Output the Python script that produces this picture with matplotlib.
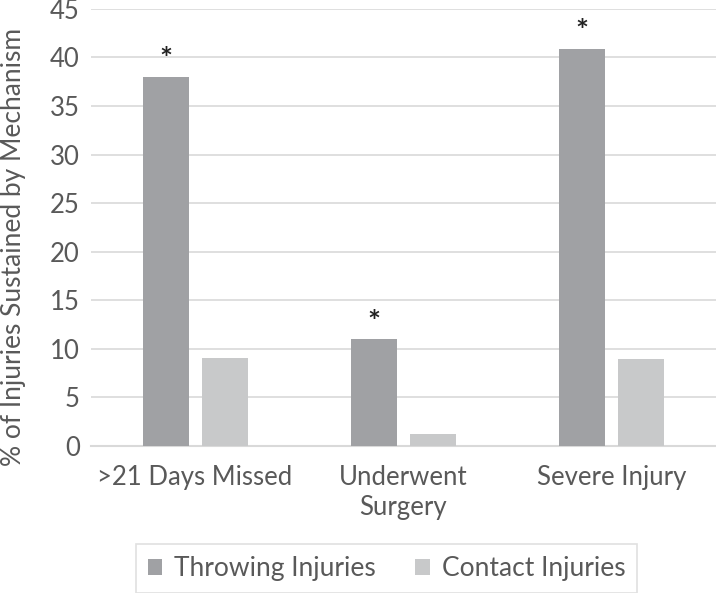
import matplotlib.pyplot as plt
import numpy as np

categories = [">21 Days Missed", "Underwent\nSurgery", "Severe Injury"]
throwing = [38.0, 11.0, 40.9]
contact = [9.1, 1.2, 8.9]
significant = [True, True, True]
series_names = ["Throwing Injuries", "Contact Injuries"]

plt.rcParams["font.family"] = ["Lato", "DejaVu Sans"]
text_color = "#595959"

fig = plt.figure(figsize=(7.16, 5.93), dpi=100)
ax = fig.add_axes([0.127, 0.248, 0.873, 0.737])

x = np.arange(len(categories))
width = 0.221
gap = 0.0625
off = (width + gap) / 2
b1 = ax.bar(x - off, throwing, width, color="#A0A1A4", label=series_names[0], zorder=3)
b2 = ax.bar(x + off, contact, width, color="#C8C9CA", label=series_names[1], zorder=3)

# significance markers
for xi, v, s in zip(x, throwing, significant):
    if s:
        ax.text(xi - off, v + 1.7, "*", ha="center", va="center", fontsize=22,
                fontweight="bold", color="#222222")

ax.set_xlim(-0.5, len(categories) - 0.5)
ax.set_ylim(0, 45)
ax.set_yticks(np.arange(0, 46, 5))
ax.yaxis.grid(True, color="#D9D9D9", lw=1.2, zorder=0)
ax.set_axisbelow(True)
for sp in ["top", "right", "left"]:
    ax.spines[sp].set_visible(False)
ax.spines["bottom"].set_color("#D9D9D9")
ax.spines["bottom"].set_linewidth(1.5)
ax.tick_params(axis="both", length=0, labelsize=18.5, colors=text_color)
ax.tick_params(axis="y", pad=8)
ax.tick_params(axis="x", pad=14)
ax.set_xticks(x)
ax.set_xticklabels(categories, linespacing=1.25)
ax.set_ylabel("% of Injuries Sustained by Mechanism", fontsize=19, color=text_color)
ax.yaxis.set_label_coords(-0.104, 0.455)

leg = fig.legend(handles=[b1, b2], loc="center", bbox_to_anchor=(0.54, 0.041), ncol=2,
                 fontsize=19, frameon=True, fancybox=False, handlelength=0.55, handleheight=0.55,
                 columnspacing=1.5, handletextpad=0.45, borderpad=0.45, borderaxespad=0)
leg.get_frame().set_edgecolor("#D9D9D9")
leg.get_frame().set_linewidth(1.2)
for t in leg.get_texts():
    t.set_color(text_color)

fig.savefig("out.png", dpi=100)
